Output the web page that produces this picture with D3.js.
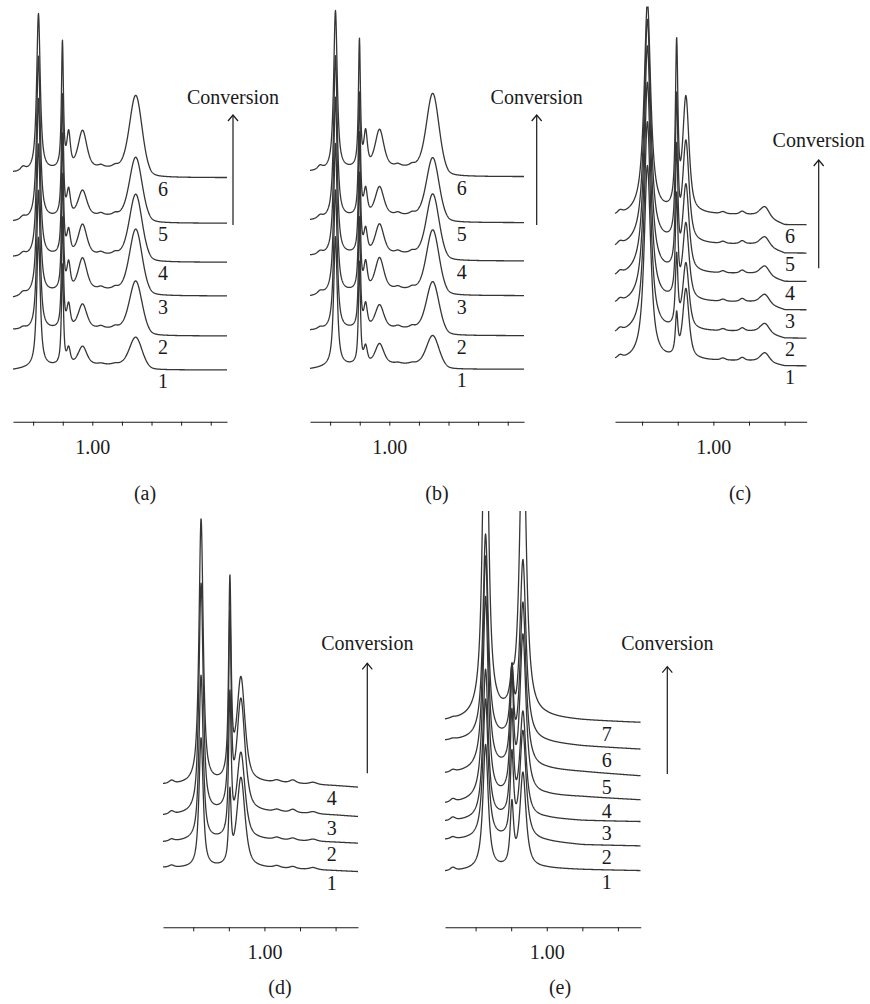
<!DOCTYPE html>
<html>
<head>
<meta charset="utf-8">
<script src="https://cdn.jsdelivr.net/npm/d3@7"></script>
<style>
  body { margin: 0; background: #fff; }
  text { font-family: "Liberation Serif", "DejaVu Serif", serif; fill: #1a1a1a; }
</style>
</head>
<body>
<div id="chart"></div>
<script>
// ---------- data (ppm axis, intensities in arbitrary units) ----------
var longTicks = [1.2, 1.1, 1.0, 0.9, 0.8, 0.7, 0.6];
var shortTicks = [1.2, 1.1, 1.0, 0.9, 0.8];
var labelledTick = 1.0;
var arrowText = "Conversion";

// panel (a): peak centre, half width, lorentz fraction
var aPpm   = [1.234, 1.182, 1.101, 1.080, 1.033, 0.971, 0.923, 0.853];
var aWidth = [0.010, 0.0072, 0.0040, 0.0068, 0.017, 0.010, 0.010, 0.025];
var aShape = [0.5, 0.85, 0.85, 0.6, 0.5, 0.5, 0.5, 0.25];
var aHeights = [
    [0, 130, 100, 15, 18, 1, 1, 30],
    [2, 140, 110, 22, 24, 2, 2, 51],
    [3, 150, 115, 25, 31, 2, 2, 63],
    [3, 158, 120, 22, 30, 2, 2, 64],
    [3, 163, 121, 24, 25, 2, 2, 62],
    [4, 158, 126, 33, 37, 2, 2, 77]
];
var aOffsets = [0, 34, 74, 107.7, 146.7, 192.3];
var aBgPpm = [1.268, 1.20, 1.05, 0.90, 0.84, 0.80, 0.545];
var aBgLevels = [
    [0, 2, 5, 5, 2, 0, 0],
    [6, 5, 7, 7, 3, 0, 0],
    [-2, 1, 6, 6, 3, 0, 0],
    [5, 5, 7, 7, 3, 0, 0],
    [1.5, 3, 7, 7, 3, 0, 0],
    [5, 5, 9, 9, 4, 0, 0]
];

// panel (b)
var bPpm   = [1.234, 1.182, 1.101, 1.080, 1.033, 0.971, 0.923, 0.853];
var bWidth = [0.010, 0.0072, 0.0040, 0.0068, 0.017, 0.010, 0.010, 0.025];
var bShape = [0.5, 0.85, 0.85, 0.6, 0.5, 0.5, 0.5, 0.25];
var bHeights = [
    [0, 130, 102, 16, 20, 1, 1, 31],
    [2, 140, 110, 22, 23, 2, 2, 50],
    [3, 150, 116, 25, 31, 2, 2, 62],
    [3, 158, 120, 22, 29, 2, 2, 63],
    [3, 163, 122, 24, 28, 2, 2, 61],
    [4, 160, 127, 33, 37, 2, 2, 78]
];
var bOffsets = [0, 33.6, 73.6, 108.3, 146.6, 192.6];
var bBgPpm = [1.268, 1.20, 1.05, 0.90, 0.84, 0.80, 0.545];
var bBgLevels = [
    [0, 2, 5, 5, 2, 0, 0],
    [5, 5, 7, 7, 3, 0, 0],
    [-1, 1, 6, 6, 3, 0, 0],
    [5, 5, 7, 7, 3, 0, 0],
    [2, 3, 7, 7, 3, 0, 0],
    [5, 5, 9, 9, 4, 0, 0]
];

// panel (c)
var cPpm   = [1.262, 1.185, 1.103, 1.077, 0.973, 0.919, 0.855];
var cWidth = [0.008, 0.011, 0.0042, 0.0104, 0.008, 0.008, 0.014];
var cShape = [0.5, 0.9, 0.85, 0.7, 0.5, 0.5, 0.4];
var cHeights = [
    [3, 195, 40, 70, 2, 3, 9],
    [3, 210, 70, 66, 2, 3, 9],
    [3, 220, 100, 76, 2, 3, 9],
    [3, 228, 120, 86, 2, 3, 9],
    [3, 225, 140, 100, 2, 3, 9],
    [3, 212, 163, 114, 2, 3, 10]
];
var cOffsets = [0, 27.7, 56, 84.3, 112.7, 141];
var cBgPpm = [1.276, 1.20, 0.87, 0.80, 0.738];
var cBgLevels = [
    [5, 5, 5, 0, 0],
    [4, 6, 7, 0, 0],
    [5, 7, 8, 0, 0],
    [4, 7, 8, 0, 0],
    [5, 8, 9, 0, 0],
    [8, 10, 10, 0, 0]
];

// panel (d)
var dPpm   = [1.261, 1.178, 1.097, 1.066, 0.965, 0.920, 0.863];
var dWidth = [0.008, 0.007, 0.0042, 0.0136, 0.010, 0.010, 0.012];
var dShape = [0.5, 0.8, 0.85, 0.7, 0.5, 0.5, 0.5];
var dHeights = [
    [2, 130, 70, 90, 2, 2, 2],
    [2, 165, 140, 86, 2, 2, 2],
    [3, 230, 190, 112, 2, 3, 2],
    [3, 265, 196, 104, 2, 3, 2]
];
var dOffsets = [0, 28.4, 55, 84.4];
var dBgPpm = [1.285, 1.20, 0.95, 0.80, 0.737];
var dBgLevels = [
    [4, 3, 3, 1, 0],
    [1, 2, 3, 1, 0],
    [1, 2, 4, 1.5, 0],
    [2.5, 2, 4, 1.5, 0]
];

// panel (e)
var ePpm   = [1.264, 1.172, 1.098, 1.067];
var eWidth = [0.008, 0.0088, 0.0056, 0.0104];
var eShape = [0.5, 0.9, 0.85, 0.9];
var eHeights = [
    [3, 125, 60, 95],
    [2, 140, 80, 108],
    [3, 150, 100, 105],
    [3, 203, 110, 160],
    [2, 214, 90, 165],
    [1, 205, 60, 180],
    [1, 400, 20, 320]
];
var eOffsets = [0, 24.7, 49, 70.7, 94.7, 121.4, 148];
var eBgPpm = [1.286, 1.20, 1.0, 0.90, 0.736];
var eBgLevels = [
    [-1, 0, 2, 1, 0],
    [6, 6, 4, 1, 0],
    [0, 1, 3, 1, 0],
    [-4, -2, 4, 3, 0],
    [2, 4, 6, 4, 0],
    [8, 9, 6, 3, 0],
    [1, 2, 4, 2, 0]
];

var captions = ["(a)", "(b)", "(c)", "(d)", "(e)"];

// ---------- layout ----------
var panels = [
    {ppm: aPpm, width: aWidth, shape: aShape, heights: aHeights, offsets: aOffsets, bgPpm: aBgPpm, bgLevels: aBgLevels,
     domain: [1.268, 0.545], x0: 13, x1: 227, base: 370, clipTop: 0, axisY: 421.7, ticks: longTicks,
     numX: 163, arrowX: 233, arrowTop: 115, arrowBottom: 225, titleY: 97, capX: 145, capY: 493},
    {ppm: bPpm, width: bWidth, shape: bShape, heights: bHeights, offsets: bOffsets, bgPpm: bBgPpm, bgLevels: bBgLevels,
     domain: [1.268, 0.545], x0: 310, x1: 524, base: 369.3, clipTop: 0, axisY: 421.7, ticks: longTicks,
     numX: 461.7, arrowX: 536.7, arrowTop: 115, arrowBottom: 225, titleY: 97, capX: 437, capY: 493},
    {ppm: cPpm, width: cWidth, shape: cShape, heights: cHeights, offsets: cOffsets, bgPpm: cBgPpm, bgLevels: cBgLevels,
     domain: [1.276, 0.738], x0: 615, x1: 806.7, base: 366, clipTop: 6.5, axisY: 421.7, ticks: shortTicks,
     numX: 790, arrowX: 818.7, arrowTop: 160, arrowBottom: 268.3, titleY: 140, capX: 740, capY: 493},
    {ppm: dPpm, width: dWidth, shape: dShape, heights: dHeights, offsets: dOffsets, bgPpm: dBgPpm, bgLevels: dBgLevels,
     domain: [1.285, 0.737], x0: 163, x1: 358, base: 871.7, clipTop: 505, axisY: 927.3, ticks: shortTicks,
     numX: 331.7, arrowX: 367.3, arrowTop: 663.3, arrowBottom: 773.3, titleY: 643.3, capX: 280, capY: 987},
    {ppm: ePpm, width: eWidth, shape: eShape, heights: eHeights, offsets: eOffsets, bgPpm: eBgPpm, bgLevels: eBgLevels,
     domain: [1.286, 0.736], x0: 445, x1: 640.7, base: 870.7, clipTop: 511, axisY: 927.3, ticks: shortTicks,
     numX: 606.7, arrowX: 667.3, arrowTop: 666.7, arrowBottom: 774, titleY: 643.3, capX: 560, capY: 987}
];

var fontSize = 20;

var svg = d3.select("#chart").append("svg")
    .attr("width", 870)
    .attr("height", 1004);

// one peak: pseudo-voigt line shape
function lineShape(dist, w, eta) {
    var r = dist / w;
    return eta / (1 + r * r) + (1 - eta) * Math.exp(-Math.LN2 * r * r);
}

function drawPanel(p, i) {
    var g = svg.append("g");

    var x = d3.scaleLinear().domain(p.domain).range([p.x0, p.x1]);
    var y = d3.scaleLinear().domain([0, 360]).range([p.base, p.base - 360]);

    //clip the tallest peaks at the top of the panel
    var clipId = "clip" + i;
    g.append("clipPath").attr("id", clipId)
        .append("rect")
        .attr("x", p.x0 - 2).attr("y", p.clipTop)
        .attr("width", p.x1 - p.x0 + 4).attr("height", p.base + 40 - p.clipTop);

    var line = d3.line()
        .x(function(d) { return x(d[0]); })
        .y(function(d) { return y(d[1]); });

    //stack of spectra, lowest first
    var samples = d3.range(p.x0, p.x1 + 0.01, 0.25).map(function(px) { return x.invert(px); });
    var traces = g.append("g").attr("clip-path", "url(#" + clipId + ")");
    p.heights.forEach(function(hs, t) {
        var bg = d3.scaleLinear().domain(p.bgPpm).range(p.bgLevels[t]);
        var pts = samples.map(function(v) {
            var s = p.offsets[t] + bg(v);
            hs.forEach(function(h, k) {
                s += h * lineShape(v - p.ppm[k], p.width[k], p.shape[k]);
            });
            return [v, s];
        });
        traces.append("path")
            .attr("d", line(pts))
            .style("fill", "none")
            .style("stroke", "#363636")
            .style("stroke-width", 1.3)
            .style("stroke-linejoin", "round");
    });

    //trace numbers under each baseline
    g.selectAll("text.num").data(p.offsets).enter().append("text")
        .attr("class", "num")
        .attr("x", p.numX)
        .attr("y", function(o) { return y(o) + 11 + 7; })
        .attr("text-anchor", "middle")
        .style("font-size", fontSize + "px")
        .text(function(o, t) { return t + 1; });

    //ppm axis
    var axis = d3.axisBottom(x)
        .tickValues(p.ticks)
        .tickSizeInner(4)
        .tickSizeOuter(0)
        .tickPadding(14)
        .tickFormat(function(v) { return Math.abs(v - labelledTick) < 1e-9 ? "1.00" : ""; });
    var ax = g.append("g")
        .attr("transform", "translate(0," + p.axisY + ")")
        .call(axis);
    ax.select(".domain").attr("stroke", "#1a1a1a").attr("stroke-width", 1.1);
    ax.selectAll(".tick line").attr("stroke", "#1a1a1a");
    ax.selectAll(".tick text")
        .style("font-family", "'Liberation Serif', serif")
        .style("font-size", fontSize + "px")
        .attr("fill", "#1a1a1a");

    //conversion arrow
    g.append("line")
        .attr("x1", p.arrowX).attr("x2", p.arrowX)
        .attr("y1", p.arrowBottom).attr("y2", p.arrowTop)
        .style("stroke", "#1a1a1a").style("stroke-width", 1.2);
    g.append("path")
        .attr("d", "M" + (p.arrowX - 5) + "," + (p.arrowTop + 6) + "L" + p.arrowX + "," + p.arrowTop +
                   "L" + (p.arrowX + 5) + "," + (p.arrowTop + 6))
        .style("fill", "none").style("stroke", "#1a1a1a").style("stroke-width", 1.2);
    g.append("text")
        .attr("x", p.arrowX)
        .attr("y", p.titleY + 7)
        .attr("text-anchor", "middle")
        .style("font-size", fontSize + "px")
        .text(arrowText);

    //panel caption
    g.append("text")
        .attr("x", p.capX)
        .attr("y", p.capY + 7)
        .attr("text-anchor", "middle")
        .style("font-size", fontSize + "px")
        .text(captions[i]);
}

panels.forEach(drawPanel);
</script>
</body>
</html>
